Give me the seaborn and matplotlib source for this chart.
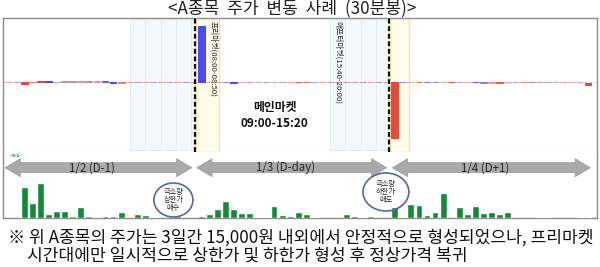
import matplotlib
matplotlib.use("Agg")
import matplotlib.pyplot as plt
import matplotlib.transforms as mtransforms
from matplotlib.patches import Rectangle, Ellipse, Polygon
import numpy as np
import pandas as pd
import seaborn as sns

# ---------------- data ----------------
bar_index = list(range(73))
price_open = [15000, 15012, 14840, 14980, 15025, 15105, 15030, 15010, 15045, 15020,
              15050, 15030, 15055, 15000, 14920, 14990, 15005, 14990, 15008, 14995,
              15010, 14995, 15010, 14995, 19500, 15000, 15010, 15030, 14990, 14960,
              14990, 14970, 14995, 14975, 15000, 14980, 14960, 14960, 15010, 14990,
              15015, 15000, 15012, 14998, 15010, 14996, 15008, 14995, 10500, 15030,
              14990, 14990, 15040, 15010, 14970, 14960, 15020, 15005, 15040, 14990,
              14950, 14950, 14980, 15010, 14980, 15020, 14980, 15015, 14985, 15010,
              14990, 14980, 14740]
price_close = [15012, 15000, 14980, 15030, 15105, 15030, 15010, 15045, 15020, 15050,
               15030, 15055, 15000, 14920, 14960, 15005, 14990, 15008, 14995, 15010,
               14995, 15010, 14995, 15005, 15000, 15010, 15030, 14990, 14900, 14990,
               14970, 14995, 14975, 15000, 14980, 15010, 15020, 15010, 14990, 15015,
               15000, 15012, 14998, 15010, 14996, 15008, 14995, 15005, 15000, 14990,
               15005, 15040, 14990, 14970, 14985, 15020, 15005, 15020, 14980, 14950,
               14970, 15010, 15010, 14980, 15020, 14980, 15015, 14985, 15010, 14990,
               15010, 15010, 14880]
volume = [0.5, 0.5, 31, 15, 35, 4, 7, 7, 2, 11,
          2, 1, 2, 2, 6, 0, 4, 3, 1, 0.5,
          0, 2, 0, 0, 2, 4, 9, 17, 9, 5,
          5, 1, 1, 12.5, 3, 2, 6, 4, 1, 0.5,
          0, 0, 4, 2, 1, 2, 0, 0, 11, 1,
          14, 13, 3, 6, 25, 0, 11, 4, 12, 5,
          6, 4, 6, 0, 0, 0, 1.5, 1.5, 0, 0.5,
          0, 1, 1]
day_labels = ["1/2 (D-1)", "1/3 (D-day)", "1/4 (D+1)"]
title = "<A종목  주가  변동  사례  (30분봉)>"
premarket_label = "프리마켓(08:00-08:50)"
aftermarket_label = "애프터마켓(15:40-20:00)"
main_label = "메인마켓\n09:00-15:20"
buy_note = "극소량\n상한가\n매수"
sell_note = "극소량\n하한가\n매도"
footnote1 = "※ 위 A종목의 주가는 3일간 15,000원 내외에서 안정적으로 형성되었으나, 프리마켓"
footnote2 = "시간대에만 일시적으로 상한가 및 하한가 형성 후 정상가격 복귀"

# ---------------- layout constants ----------------
XLIM = (-0.67, 73.12)
day_spans = [(-0.42, 22.8), (23.4, 47.0), (47.7, 72.3)]
after_spans = [(15.1, 23.2), (39.95, 47.3)]
pre_spans = [(23.3, 26.2), (47.4, 49.8)]
dash_x = [23.2, 47.3]

sns.set_style("white")
plt.rcParams['font.family'] = ['Noto Sans CJK KR', 'DejaVu Sans']

W, H = 600, 267
fig = plt.figure(figsize=(6, 2.67), dpi=100)
fig.patch.set_facecolor("white")

def fy(px):
    return 1 - px / H

axp = fig.add_axes([3 / W, fy(152), 594 / W, 134 / H])
axv = fig.add_axes([3 / W, fy(218), 594 / W, 66 / H])

# ---- price panel ----
df = pd.DataFrame({"i": bar_index, "o": price_open, "c": price_close})
df["lo"] = df[["o", "c"]].min(axis=1)
df["h"] = (df["c"] - df["o"]).abs()
red, blue = "#e8473b", "#4b4bef"
for _, r in df.iterrows():
    col = red if r["c"] >= r["o"] else blue
    a = float(np.clip(r["h"] / 70.0, 0.42, 1.0))
    axp.bar(r["i"], max(r["h"], 1), bottom=r["lo"], width=0.85, color=col,
            edgecolor=col, linewidth=0.8, alpha=a, zorder=3)

axp.set_xlim(*XLIM)
scale = 12.4 / 1000.0
axp.set_ylim(15000 - 70 / scale, 15000 + 64 / scale)
axp.axhline(15000, color="#e6cccc", lw=0.6, ls=(0, (4, 2)), zorder=1)

tr = mtransforms.blended_transform_factory(axp.transData, axp.transAxes)
for a0, a1 in after_spans:
    axp.add_patch(Rectangle((a0, 0.015), a1 - a0, 0.985, transform=tr,
                            facecolor="#f3f8fd", edgecolor="#e2ebf5", lw=0.8, zorder=0))
    for gx in np.arange(a0 + 1.9, a1, 1.9):
        axp.plot([gx, gx], [0.02, 1], transform=tr, color="#e3ecf6", lw=0.6, zorder=0.5)
for a0, a1 in pre_spans:
    axp.add_patch(Rectangle((a0, 0.0), a1 - a0, 1.0, transform=tr,
                            facecolor="#fffcea", edgecolor="#f2e6a8", lw=0.9, zorder=0.6))
for dx in dash_x:
    axp.plot([dx, dx], [0, 1], transform=tr, color="#111111", lw=1.6,
             ls=(0, (2.2, 1.2)), zorder=4)

axp.text(25.5, 0.975, premarket_label, transform=tr, rotation=270, ha="center",
         va="top", fontsize=5.6, color="#222222", zorder=5)
axp.text(40.9, 0.975, aftermarket_label, transform=tr, rotation=270, ha="center",
         va="top", fontsize=5.6, color="#222222", zorder=5)
axp.text(33.1, 0.27, main_label, transform=tr, ha="center", va="center",
         fontsize=8.5, fontweight="bold", color="#111111", linespacing=1.3, zorder=5)

axp.set_xticks([]); axp.set_yticks([])
for s in ["left", "right", "top"]:
    axp.spines[s].set_color("#8c8c8c"); axp.spines[s].set_linewidth(1.0)
axp.spines["bottom"].set_color("#cfcfcf"); axp.spines["bottom"].set_linewidth(0.8)

# ---- volume panel ----
dv = pd.DataFrame({"i": bar_index, "v": volume})
sns.barplot(data=dv, x="i", y="v", color="#14893a", width=0.85, saturation=1,
            errorbar=None, native_scale=True, ax=axv, zorder=3)
axv.set_xlim(*XLIM)
axv.set_ylim(0, 66)
axv.axhline(0.3, color="#a9cdb3", lw=0.9, zorder=2)
axv.set_xlabel(""); axv.set_ylabel("")
axv.set_xticks([]); axv.set_yticks([])
for s in ["left", "right", "bottom"]:
    axv.spines[s].set_color("#8c8c8c"); axv.spines[s].set_linewidth(1.0)
axv.spines["top"].set_visible(False)
axv.text(0.2, 64.5, "거래량", fontsize=2.8, color="#2e9a4e", va="top", ha="left")

yc, bh, hh, hl = 50.3, 5.0, 9.0, 1.9
for (x0, x1), lab in zip(day_spans, day_labels):
    pts = [(x0, yc), (x0 + hl, yc + hh), (x0 + hl, yc + bh), (x1 - hl, yc + bh),
           (x1 - hl, yc + hh), (x1, yc), (x1 - hl, yc - hh), (x1 - hl, yc - bh),
           (x0 + hl, yc - bh), (x0 + hl, yc - hh)]
    axv.add_patch(Polygon(pts, closed=True, facecolor="#a9a9a9", edgecolor="#9a9a9a",
                          lw=0.5, zorder=4))
    axv.text((x0 + x1) / 2 - 0.8, yc, lab, ha="center", va="center", fontsize=8.3,
             color="#2a2a2a", zorder=5)

for (cx, cy, w, h), note in zip([(20.5, 18, 4.85, 34), (46.9, 26, 5.7, 38)],
                                [buy_note, sell_note]):
    axv.add_patch(Ellipse((cx, cy), w, h, facecolor="none", edgecolor="#56679a",
                          lw=1.2, zorder=6))
    axv.text(cx, cy, note, ha="center", va="center", fontsize=5.2, color="#222222",
             linespacing=1.05, zorder=7)

# ---- texts ----
fig.text(292 / W, fy(9), title, ha="center", va="center", fontsize=12.3, color="#222222")
fig.text(8 / W, fy(238), footnote1, ha="left", va="center", fontsize=12.3, color="#111111")
fig.text(27 / W, fy(255.5), footnote2, ha="left", va="center", fontsize=12.3, color="#111111")

fig.savefig("out.png", dpi=100)
